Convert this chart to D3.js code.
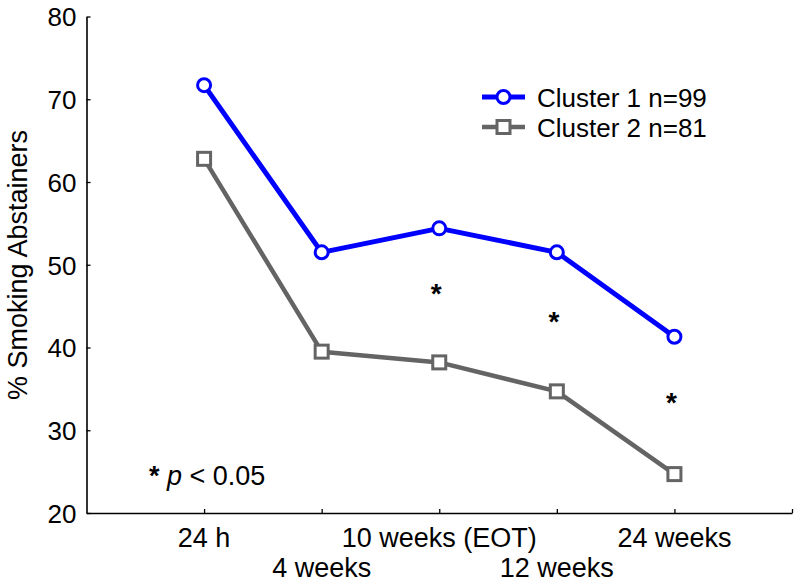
<!DOCTYPE html>
<html><head><meta charset="utf-8">
<script src="https://cdn.jsdelivr.net/npm/d3@7"></script>
<style>body{margin:0;background:#fff}svg{display:block;font-family:"Liberation Sans",Arial,sans-serif}</style>
</head><body>
<svg id="c" width="800" height="585"></svg>
<script>
const timepoints = ["24 h", "4 weeks", "10 weeks (EOT)", "12 weeks", "24 weeks"];
const cluster1 = [71.7, 51.5, 54.4, 51.5, 41.3];
const cluster2 = [62.8, 39.5, 38.2, 34.7, 24.7];
const seriesNames = ["Cluster 1 n=99", "Cluster 2 n=81"];
const yTicks = [20, 30, 40, 50, 60, 70, 80];
const starValues = [47.2, 43.8, 34.0];   // y-level of significance markers at 10w, 12w, 24w
const starIndex = [2, 3, 4];

const svg = d3.select("#c");
const x = d3.scaleLinear().domain([0, 6]).range([86.5, 792]);
const y = d3.scaleLinear().domain([20, 80]).range([513, 16.5]);
const blue = "#0000ff", gray = "#646464";
const FS = 27;

// axes
const yAxis = d3.axisLeft(y).tickValues(yTicks).tickSizeInner(-4).tickSizeOuter(0).tickPadding(10);
const gy = svg.append("g").attr("transform", "translate(86.5,0)").call(yAxis);
gy.select(".domain").attr("stroke", "#000").attr("stroke-width", 1.6);
gy.selectAll(".tick line").attr("stroke", "#000").attr("stroke-width", 1.3);
gy.selectAll("text").attr("font-size", 26).attr("fill", "#000").attr("dy", "0.36em");

const xAxis = d3.axisBottom(x).tickValues([1, 2, 3, 4, 5, 6]).tickSizeInner(-4).tickSizeOuter(0).tickFormat("");
const gx = svg.append("g").attr("transform", "translate(0,513)").call(xAxis);
gx.select(".domain").attr("stroke", "#000").attr("stroke-width", 1.6);
gx.selectAll(".tick line").attr("stroke", "#000").attr("stroke-width", 1.3);

// x labels (staggered)
svg.append("g").selectAll("text").data(timepoints).join("text")
  .attr("x", (d, i) => x(i + 1))
  .attr("y", (d, i) => i % 2 === 0 ? 547 : 577)
  .attr("text-anchor", "middle").attr("font-size", FS).attr("fill", "#000")
  .text(d => d);

// y label
svg.append("text").attr("transform", "translate(27,265) rotate(-90)")
  .attr("text-anchor", "middle").attr("font-size", FS).attr("fill", "#000")
  .text("% Smoking Abstainers");

const line = d3.line().x((d, i) => x(i + 1)).y(d => y(d));

// cluster 2
svg.append("path").datum(cluster2).attr("d", line).attr("fill", "none")
  .attr("stroke", gray).attr("stroke-width", 4.5).attr("stroke-linejoin", "round");
svg.append("g").selectAll("rect").data(cluster2).join("rect")
  .attr("x", (d, i) => x(i + 1) - 6.5).attr("y", d => y(d) - 6.5)
  .attr("width", 13).attr("height", 13).attr("fill", "#fff")
  .attr("stroke", gray).attr("stroke-width", 3);

// cluster 1
svg.append("path").datum(cluster1).attr("d", line).attr("fill", "none")
  .attr("stroke", blue).attr("stroke-width", 5).attr("stroke-linejoin", "round");
svg.append("g").selectAll("circle").data(cluster1).join("circle")
  .attr("cx", (d, i) => x(i + 1)).attr("cy", d => y(d)).attr("r", 6.5)
  .attr("fill", "#fff").attr("stroke", blue).attr("stroke-width", 3);

// significance stars
svg.append("g").selectAll("text").data(starValues).join("text")
  .attr("x", (d, i) => x(starIndex[i] + 1) - 3).attr("y", d => y(d) + 15)
  .attr("text-anchor", "middle").attr("font-size", 28).attr("font-weight", "bold").attr("fill", "#000")
  .text("*");

// p-value note
const note = svg.append("text").attr("x", 149).attr("y", 485).attr("font-size", FS).attr("fill", "#000");
note.append("tspan").attr("font-weight", "bold").text("*");
note.append("tspan").text(" ");
note.append("tspan").attr("font-style", "italic").text("p");
note.append("tspan").text(" < 0.05");

// legend
const leg = svg.append("g");
const legY = [97, 127];
const cols = [blue, gray];
leg.selectAll("line").data(seriesNames).join("line")
  .attr("x1", 482).attr("x2", 525).attr("y1", (d, i) => legY[i]).attr("y2", (d, i) => legY[i])
  .attr("stroke", (d, i) => cols[i]).attr("stroke-width", (d, i) => i === 0 ? 5 : 4.5);
leg.append("circle").attr("cx", 503.5).attr("cy", legY[0]).attr("r", 6.5)
  .attr("fill", "#fff").attr("stroke", blue).attr("stroke-width", 3);
leg.append("rect").attr("x", 497).attr("y", legY[1] - 6.5).attr("width", 13).attr("height", 13)
  .attr("fill", "#fff").attr("stroke", gray).attr("stroke-width", 3);
leg.selectAll("text").data(seriesNames).join("text")
  .attr("x", 537).attr("y", (d, i) => legY[i] + 9.5)
  .attr("font-size", 26).attr("fill", "#000").text(d => d);
</script>
</body></html>
